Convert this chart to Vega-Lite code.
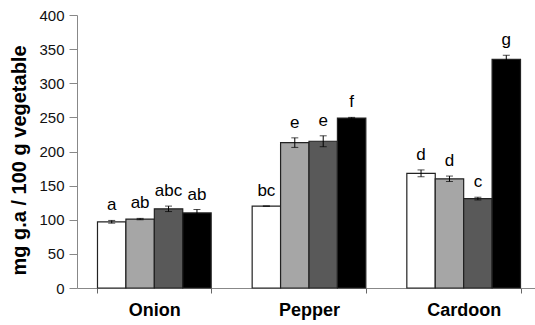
{
  "$schema": "https://vega.github.io/schema/vega-lite/v6.json",
  "width": 464,
  "height": 273,
  "autosize": {"type": "none"},
  "padding": {"left": 77, "top": 15, "right": -6, "bottom": 37},
  "background": "white",
  "config": {
    "view": {"stroke": null},
    "font": "Liberation Sans",
    "axisY": {
      "titleFont": "Liberation Sans",
      "titleFontSize": 20,
      "titleFontWeight": "bold",
      "titleColor": "#000000",
      "titlePadding": 9,
      "titleY": 145,
      "labelOverlap": false,
      "labelFont": "Liberation Sans",
      "labelFontSize": 15,
      "labelColor": "#111111",
      "labelPadding": 5,
      "grid": false,
      "domainColor": "#888888",
      "tickColor": "#888888",
      "tickSize": 8
    }
  },
  "data": {
    "values": [
      {"vegetable": "Onion", "treatment": "T1", "value": 97, "err": 2, "group": "a"},
      {"vegetable": "Onion", "treatment": "T2", "value": 101, "err": 1, "group": "ab"},
      {"vegetable": "Onion", "treatment": "T3", "value": 116, "err": 4, "group": "abc"},
      {"vegetable": "Onion", "treatment": "T4", "value": 110, "err": 5, "group": "ab"},
      {"vegetable": "Pepper", "treatment": "T1", "value": 120, "err": 0, "group": "bc"},
      {"vegetable": "Pepper", "treatment": "T2", "value": 213, "err": 7, "group": "e"},
      {"vegetable": "Pepper", "treatment": "T3", "value": 215, "err": 8, "group": "e"},
      {"vegetable": "Pepper", "treatment": "T4", "value": 249, "err": 1, "group": "f"},
      {"vegetable": "Cardoon", "treatment": "T1", "value": 168, "err": 5, "group": "d"},
      {"vegetable": "Cardoon", "treatment": "T2", "value": 160, "err": 4, "group": "d"},
      {"vegetable": "Cardoon", "treatment": "T3", "value": 131, "err": 2, "group": "c"},
      {"vegetable": "Cardoon", "treatment": "T4", "value": 335, "err": 6, "group": "g"}
    ]
  },
  "encoding": {
    "x": {
      "field": "vegetable",
      "type": "nominal",
      "sort": ["Onion", "Pepper", "Cardoon"],
      "scale": {"paddingInner": 0.265, "paddingOuter": 0.1325},
      "axis": {
        "title": null,
        "labelAngle": 0,
        "labelFont": "Liberation Sans",
        "labelFontSize": 18,
        "labelFontWeight": "bold",
        "labelColor": "#000000",
        "labelPadding": 8,
        "tickBand": "extent",
        "domainColor": "#888888",
        "tickColor": "#666666",
        "tickSize": 5
      }
    },
    "xOffset": {
      "field": "treatment",
      "type": "nominal",
      "scale": {"paddingInner": 0, "paddingOuter": 0}
    }
  },
  "layer": [
    {
      "mark": {"type": "bar", "stroke": "#222222", "strokeWidth": 1.2},
      "encoding": {
        "y": {
          "field": "value",
          "type": "quantitative",
          "scale": {"domain": [0, 400], "nice": false},
          "axis": {"title": "mg g.a / 100 g vegetable", "values": [0, 50, 100, 150, 200, 250, 300, 350, 400]}
        },
        "fill": {
          "field": "treatment",
          "type": "nominal",
          "scale": {"domain": ["T1", "T2", "T3", "T4"], "range": ["#ffffff", "#a6a6a6", "#595959", "#000000"]},
          "legend": null
        }
      }
    },
    {
      "mark": {"type": "errorbar", "ticks": {"size": 7, "color": "#000000"}, "color": "#000000", "thickness": 1},
      "encoding": {
        "y": {
          "field": "value",
          "type": "quantitative",
          "axis": {"title": "mg g.a / 100 g vegetable", "values": [0, 50, 100, 150, 200, 250, 300, 350, 400]}
        },
        "yError": {"field": "err"}
      }
    },
    {
      "transform": [{"calculate": "datum.value + datum.err", "as": "top"}],
      "mark": {"type": "text", "font": "Liberation Sans", "fontSize": 17, "color": "#000000", "baseline": "alphabetic", "dy": -10},
      "encoding": {
        "y": {
          "field": "top",
          "type": "quantitative",
          "axis": {"title": "mg g.a / 100 g vegetable", "values": [0, 50, 100, 150, 200, 250, 300, 350, 400]}
        },
        "text": {"field": "group"}
      }
    }
  ]
}
